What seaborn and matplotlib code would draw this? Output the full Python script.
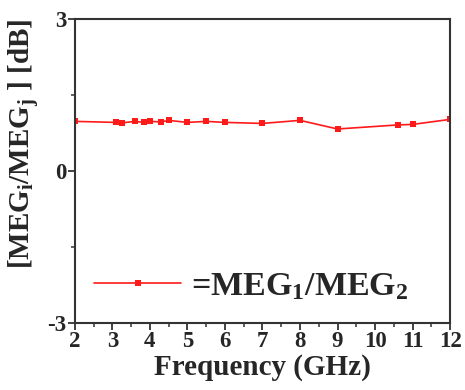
import matplotlib
matplotlib.use("Agg")
import matplotlib.pyplot as plt
from matplotlib.ticker import MultipleLocator
import seaborn as sns
import pandas as pd

freq = [2.0, 3.1, 3.25, 3.6, 3.85, 4.0, 4.3, 4.5, 5.0, 5.5, 6.0, 7.0, 8.0, 9.0, 10.6, 11.0, 12.0]
ratio = [0.98, 0.96, 0.95, 0.98, 0.96, 0.98, 0.97, 1.0, 0.96, 0.98, 0.96, 0.94, 1.0, 0.83, 0.91, 0.92, 1.02]
series_label = "=MEG$_1$/MEG$_2$"
x_ticks = [2, 3, 4, 5, 6, 7, 8, 9, 10, 11, 12]
y_ticks = [-3, 0, 3]

sns.set_style("ticks")
plt.rcParams["font.family"] = ["Liberation Serif", "DejaVu Serif"]
plt.rcParams["font.weight"] = "bold"
plt.rcParams["axes.unicode_minus"] = False
plt.rcParams["mathtext.fontset"] = "custom"
plt.rcParams["mathtext.rm"] = "Liberation Serif:bold"
plt.rcParams["mathtext.it"] = "Liberation Serif:bold"
plt.rcParams["mathtext.bf"] = "Liberation Serif:bold"
plt.rcParams["mathtext.default"] = "rm"

df = pd.DataFrame({"Frequency": freq, "Ratio": ratio})

fig = plt.figure(figsize=(4.65, 3.9), dpi=100)
ax = fig.add_axes([0.161, 0.172, 0.807, 0.779])
sns.lineplot(data=df, x="Frequency", y="Ratio", ax=ax, color="#ff1a1a",
             marker="s", markersize=5, markeredgewidth=0, linewidth=1.2,
             label=series_label)

ax.set_xlim(2, 12)
ax.set_ylim(-3, 3)
ax.set_xticks(x_ticks)
ax.set_yticks(y_ticks)
ax.xaxis.set_minor_locator(MultipleLocator(0.5))
ax.yaxis.set_minor_locator(MultipleLocator(1.5))
ax.tick_params(which="major", direction="out", length=5, width=1.3, labelsize=16.5, pad=1, color="#333333")
ax.tick_params(which="minor", direction="out", length=3, width=1.1, color="#333333")
for lab in ax.get_xticklabels() + ax.get_yticklabels():
    lab.set_fontweight("bold")
for s in ax.spines.values():
    s.set_visible(True)
    s.set_linewidth(1.5)
    s.set_color("#333333")

ax.set_xlabel("Frequency (GHz)", fontsize=21, fontweight="bold", labelpad=1)
ax.set_ylabel("[MEG$_i$/MEG$_j$ ] [dB]", fontsize=21, fontweight="bold")
ax.yaxis.label.set_va("center")
ax.yaxis.label.set_ha("center")
ax.yaxis.set_label_coords(-0.133, 0.59)

leg = ax.legend(loc="center left", bbox_to_anchor=(-0.03, 0.12), frameon=False,
                handlelength=2.55, handletextpad=0.3,
                prop={"family": "Liberation Serif", "weight": "bold", "size": 24.5})

fig.savefig("out.png", dpi=100, facecolor="white")
